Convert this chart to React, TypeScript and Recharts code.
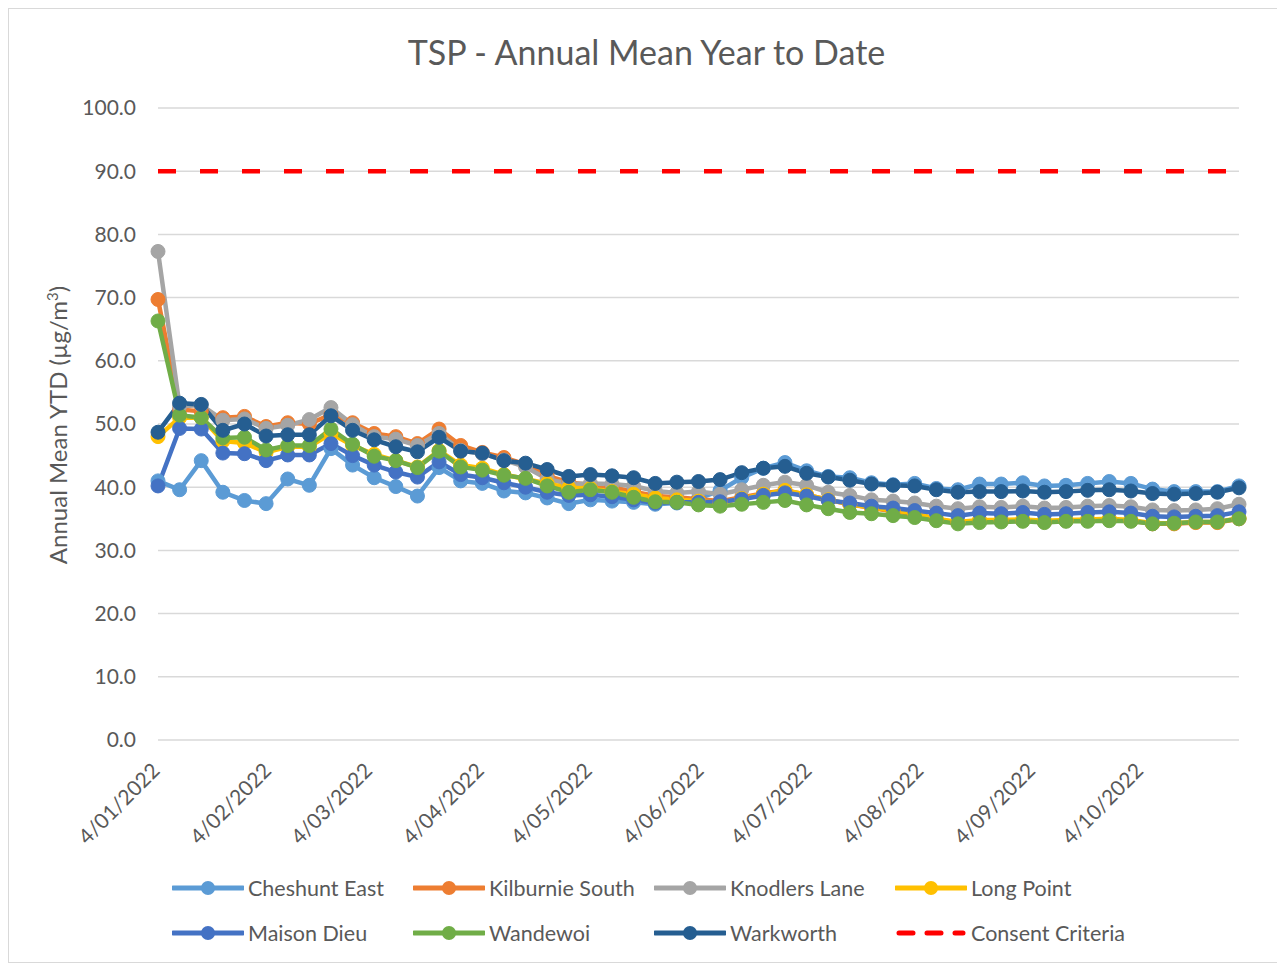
import React from 'react'
import { LineChart, Line, XAxis, YAxis, CartesianGrid } from 'recharts'

// sample dates (1-in-6 day sampling)
const dates = [
  '2022-01-04', '2022-01-10', '2022-01-16', '2022-01-22', '2022-01-28',
  '2022-02-03', '2022-02-09', '2022-02-15', '2022-02-21', '2022-02-27',
  '2022-03-05', '2022-03-11', '2022-03-17', '2022-03-23', '2022-03-29',
  '2022-04-04', '2022-04-10', '2022-04-16', '2022-04-22', '2022-04-28',
  '2022-05-04', '2022-05-10', '2022-05-16', '2022-05-22', '2022-05-28',
  '2022-06-03', '2022-06-09', '2022-06-15', '2022-06-21', '2022-06-27',
  '2022-07-03', '2022-07-09', '2022-07-15', '2022-07-21', '2022-07-27',
  '2022-08-02', '2022-08-08', '2022-08-14', '2022-08-20', '2022-08-26',
  '2022-09-01', '2022-09-07', '2022-09-13', '2022-09-19', '2022-09-25',
  '2022-10-01', '2022-10-07', '2022-10-13', '2022-10-19', '2022-10-25',
  '2022-10-31',
]

const tickDates = [
  '2022-01-04', '2022-02-04', '2022-03-04', '2022-04-04', '2022-05-04',
  '2022-06-04', '2022-07-04', '2022-08-04', '2022-09-04', '2022-10-04',
]
const tickLabels = [
  '4/01/2022', '4/02/2022', '4/03/2022', '4/04/2022', '4/05/2022',
  '4/06/2022', '4/07/2022', '4/08/2022', '4/09/2022', '4/10/2022',
]
const yTicks = [0, 10, 20, 30, 40, 50, 60, 70, 80, 90, 100]

const cheshuntEast = [
  41.0, 39.6, 44.2, 39.2, 37.9, 37.4, 41.3, 40.3, 46.1, 43.5,
  41.5, 40.1, 38.6, 43.1, 41.0, 40.6, 39.4, 39.1, 38.3, 37.4,
  38.0, 37.8, 37.6, 37.3, 37.5, 38.2, 39.5, 41.5, 43.0, 43.9,
  42.6, 41.7, 41.5, 40.7, 40.4, 40.6, 39.8, 39.6, 40.5, 40.5,
  40.7, 40.2, 40.3, 40.6, 40.9, 40.6, 39.7, 39.3, 39.3, 39.3, 40.2,
]
const kilburnieSouth = [
  69.7, 52.3, 52.0, 51.0, 51.2, 49.6, 50.2, 50.0, 51.5, 50.2,
  48.5, 48.0, 46.9, 49.2, 46.6, 45.5, 44.7, 43.6, 41.8, 40.8,
  40.3, 40.0, 39.3, 38.6, 38.4, 38.1, 37.8, 38.4, 39.0, 39.5,
  38.8, 38.0, 37.3, 36.7, 36.2, 35.7, 34.9, 34.4, 34.7, 34.7,
  34.7, 34.5, 34.7, 34.8, 34.9, 34.7, 34.2, 34.2, 34.4, 34.4, 35.0,
]
const knodlersLane = [
  77.3, 52.8, 53.0, 50.6, 50.8, 49.3, 49.8, 50.7, 52.6, 49.9,
  48.0, 47.6, 46.6, 48.5, 45.8, 45.3, 44.3, 43.2, 41.3, 40.5,
  40.6, 40.5, 40.2, 39.4, 39.1, 39.3, 38.9, 39.6, 40.3, 40.8,
  40.3, 39.2, 38.7, 38.0, 37.8, 37.5, 37.0, 36.6, 36.9, 36.8,
  37.0, 36.7, 36.8, 37.0, 37.1, 36.9, 36.4, 36.3, 36.4, 36.6, 37.3,
]
const longPoint = [
  48.0, 51.0, 51.0, 47.3, 47.0, 45.5, 46.4, 46.4, 48.5, 46.6,
  45.2, 44.2, 43.2, 45.8, 43.5, 43.0, 42.0, 41.3, 40.6, 39.9,
  39.8, 39.3, 38.9, 38.3, 38.0, 37.8, 37.5, 38.2, 38.9, 39.5,
  38.8, 38.0, 37.3, 36.8, 36.3, 35.9, 35.0, 34.5, 34.8, 34.8,
  34.9, 34.7, 34.8, 34.9, 35.0, 34.8, 34.3, 34.3, 34.5, 34.5, 35.1,
]
const maisonDieu = [
  40.2, 49.3, 49.2, 45.4, 45.3, 44.2, 45.1, 45.1, 46.9, 45.0,
  43.5, 42.4, 41.6, 44.0, 42.0, 41.5, 40.7, 40.0, 39.2, 38.7,
  38.8, 38.5, 38.0, 37.5, 37.6, 37.6, 37.7, 38.1, 38.7, 39.1,
  38.6, 37.9, 37.5, 37.0, 36.7, 36.3, 35.9, 35.5, 35.9, 35.8,
  36.0, 35.7, 35.8, 36.0, 36.1, 35.9, 35.4, 35.3, 35.4, 35.5, 36.1,
]
const wandewoi = [
  66.3, 51.4, 51.0, 47.8, 47.9, 45.9, 46.6, 46.6, 49.2, 46.8,
  44.9, 44.2, 43.1, 45.7, 43.2, 42.7, 41.9, 41.4, 40.2, 39.2,
  39.6, 39.2, 38.4, 37.7, 37.6, 37.2, 37.0, 37.3, 37.6, 37.9,
  37.2, 36.6, 36.0, 35.8, 35.5, 35.2, 34.7, 34.2, 34.4, 34.5,
  34.6, 34.4, 34.6, 34.6, 34.7, 34.6, 34.2, 34.3, 34.5, 34.5, 35.0,
]
const warkworth = [
  48.7, 53.3, 53.1, 49.0, 50.0, 48.1, 48.3, 48.3, 51.3, 49.0,
  47.5, 46.4, 45.6, 47.9, 45.7, 45.4, 44.2, 43.8, 42.8, 41.7,
  42.0, 41.8, 41.5, 40.6, 40.8, 40.9, 41.2, 42.3, 43.0, 43.3,
  42.2, 41.6, 41.1, 40.5, 40.3, 40.2, 39.6, 39.2, 39.3, 39.3,
  39.4, 39.2, 39.3, 39.5, 39.6, 39.4, 39.0, 38.9, 39.0, 39.2, 39.9,
]
const consentCriteria = 90

const series = [
  { key: 'cheshuntEast', name: 'Cheshunt East', color: '#5B9BD5', values: cheshuntEast },
  { key: 'kilburnieSouth', name: 'Kilburnie South', color: '#ED7D31', values: kilburnieSouth },
  { key: 'knodlersLane', name: 'Knodlers Lane', color: '#A5A5A5', values: knodlersLane },
  { key: 'longPoint', name: 'Long Point', color: '#FFC000', values: longPoint },
  { key: 'maisonDieu', name: 'Maison Dieu', color: '#4472C4', values: maisonDieu },
  { key: 'wandewoi', name: 'Wandewoi', color: '#70AD47', values: wandewoi },
  { key: 'warkworth', name: 'Warkworth', color: '#255E91', values: warkworth },
]

const toDay = (d: string) => Date.parse(d + 'T00:00:00Z') / 86400000

const data = dates.map((d, i) => {
  const row: any = { t: toDay(d), consent: consentCriteria }
  series.forEach(s => { row[s.key] = s.values[i] })
  return row
})

const tickValues = tickDates.map(toDay)

const FONT = 'Lato, "Open Sans", sans-serif'
const TEXT = '#595959'

const DateTick = (props: any) => {
  const { x, y, payload } = props
  const idx = tickValues.indexOf(payload.value)
  const tx = x + 3
  const ty = y + 4
  return (
    <text
      x={tx}
      y={ty}
      textAnchor="end"
      transform={`rotate(-45 ${tx} ${ty})`}
      fill={TEXT}
      fontSize={21}
      fontFamily={FONT}
    >
      {tickLabels[idx]}
    </text>
  )
}

const LegendIcon = ({ color, dashed }: { color: string; dashed?: boolean }) => (
  <svg width={72} height={20} style={{ display: 'block' }}>
    {dashed ? (
      <line x1={4} y1={10} x2={68} y2={10} stroke={color} strokeWidth={5} strokeDasharray="14 14" strokeLinecap="round" />
    ) : (
      <>
        <line x1={1} y1={10} x2={71} y2={10} stroke={color} strokeWidth={5} strokeLinecap="round" />
        <circle cx={36} cy={10} r={7} fill={color} />
      </>
    )}
  </svg>
)

export default function App() {
  const legendItems = [
    ...series.map(s => ({ name: s.name, color: s.color, dashed: false })),
    { name: 'Consent Criteria', color: '#FF0000', dashed: true },
  ]

  return (
    <div
      style={{
        position: 'relative',
        width: 1277,
        height: 955,
        border: '1px solid #d9d9d9',
        boxSizing: 'border-box',
        background: '#fff',
        fontFamily: FONT,
      }}
    >
      <div
        style={{
          position: 'absolute',
          top: 23,
          left: 0,
          width: 1275,
          textAlign: 'center',
          fontSize: 34,
          color: TEXT,
          lineHeight: '40px',
        }}
      >
        TSP - Annual Mean Year to Date
      </div>

      <div
        style={{
          position: 'absolute',
          left: 48,
          top: 416,
          transform: 'translate(-50%, -50%) rotate(-90deg)',
          whiteSpace: 'nowrap',
          fontSize: 24,
          color: TEXT,
        }}
      >
        Annual Mean YTD (µg/m<sup style={{ fontSize: 15 }}>3</sup>)
      </div>

      <LineChart
        width={1275}
        height={953}
        data={data}
        margin={{ top: 99, right: 45, left: 0, bottom: 102 }}
      >
        <CartesianGrid vertical={false} stroke="#d9d9d9" strokeWidth={1.5} />
        <XAxis
          dataKey="t"
          type="number"
          domain={['dataMin', 'dataMax']}
          ticks={tickValues}
          interval={0}
          axisLine={false}
          tickLine={false}
          tickSize={0}
          tickMargin={28}
          height={120}
          tick={<DateTick />}
        />
        <YAxis
          width={149}
          domain={[0, 100]}
          ticks={yTicks}
          interval={0}
          axisLine={false}
          tickLine={false}
          tickSize={0}
          tickMargin={22}
          tickFormatter={(v: number) => v.toFixed(1)}
          tick={{ fill: TEXT, fontSize: 21, fontFamily: FONT }}
        />
        {series.map(s => (
          <Line
            key={s.key}
            type="linear"
            dataKey={s.key}
            name={s.name}
            stroke={s.color}
            strokeWidth={4.5}
            dot={{ r: 7, fill: s.color, stroke: s.color, strokeWidth: 1 }}
            activeDot={false}
            isAnimationActive={false}
          />
        ))}
        <Line
          type="linear"
          dataKey="consent"
          name="Consent Criteria"
          stroke="#FF0000"
          strokeWidth={4.5}
          strokeDasharray="18 24"
          dot={false}
          activeDot={false}
          isAnimationActive={false}
        />
      </LineChart>

      <div
        style={{
          position: 'absolute',
          left: 163,
          top: 869,
          display: 'grid',
          gridTemplateColumns: 'repeat(4, 241px)',
          rowGap: 25,
        }}
      >
        {legendItems.map(item => (
          <div key={item.name} style={{ display: 'flex', alignItems: 'center', height: 20 }}>
            <LegendIcon color={item.color} dashed={item.dashed} />
            <span style={{ marginLeft: 4, fontSize: 21.5, color: TEXT, whiteSpace: 'nowrap' }}>{item.name}</span>
          </div>
        ))}
      </div>
    </div>
  )
}
